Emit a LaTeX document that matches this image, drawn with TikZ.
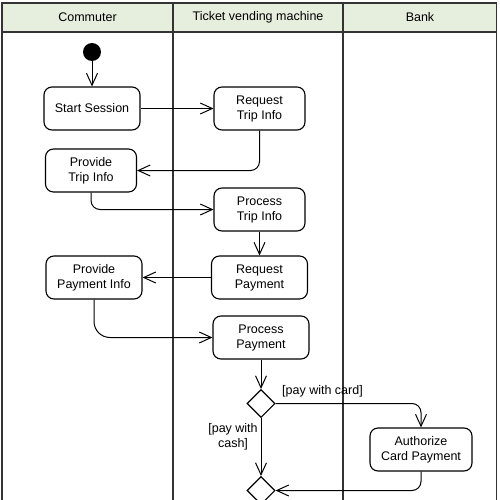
\documentclass[tikz,border=0pt]{standalone}
\usepackage{fontspec}
\setmainfont{Liberation Sans}
\definecolor{lanegreen}{RGB}{230,238,222}
\definecolor{lanegray}{RGB}{51,51,51}
\usetikzlibrary{arrows.meta}
\usetikzlibrary{shapes.geometric}
\tikzset{
  action/.style={draw, line width=1.1pt, rounded corners=8pt, align=center,
    minimum height=43pt, inner sep=2pt, font=\fontsize{12.5}{15}\selectfont},
  decision/.style={draw, diamond, line width=1.1pt, minimum width=28pt,
    minimum height=28pt, inner sep=0pt},
  flow/.style={line width=1pt, rounded corners=9pt,
    -{Straight Barb[length=12pt,width=11pt,line width=1pt]}},
  guard/.style={font=\fontsize{12.5}{15}\selectfont, align=center, inner sep=0pt},
  lanetitle/.style={font=\fontsize{12.5}{15}\selectfont}
}

\begin{document}
\begin{tikzpicture}[x=1pt, y=-1pt]

  \clip (0,0) rectangle (500,500);

  % swimlanes
  \fill [lanegreen] (2,3) rectangle (496.5,32);
  \draw [lanegray, line width=1.2pt] (2,3) rectangle (496.5,520);
  \draw [lanegray, line width=2pt] (2,32) -- (496.5,32);
  \foreach \x in {173,343} \draw [lanegray, line width=1.4pt] (\x,3) -- (\x,520);

  \node [lanetitle] (commuter) at (87.5,17.5) {Commuter};
  \node [lanetitle] (machine) at (258,17.5) {Ticket vending machine};
  \node [lanetitle] (bank) at (420,17.5) {Bank};

  % actions
  \node [circle, fill=black, minimum size=18pt, inner sep=0pt] (start) at (92,52) {};
  \node [action, minimum width=96pt] (startsession) at (92,108.5) {Start Session};
  \node [action, minimum width=91pt] (reqtrip) at (259.5,108.5) {Request\\Trip Info};
  \node [action, minimum width=91pt] (provtrip) at (91,170.5) {Provide\\Trip Info};
  \node [action, minimum width=91pt] (proctrip) at (259.5,209.5) {Process\\Trip Info};
  \node [action, minimum width=96pt] (reqpay) at (259.5,277.5) {Request\\Payment};
  \node [action, minimum width=96pt] (provpay) at (94,277.5) {Provide\\Payment Info};
  \node [action, minimum width=96pt] (procpay) at (261,337.5) {Process\\Payment};
  \node [decision] (choice) at (261,403.5) {};
  \node [action, minimum width=102pt] (authorize) at (421,449.5) {Authorize\\Card Payment};
  \node [decision] (merge) at (261,490.5) {};

  % guards
  \node [guard] (card) at (322.5,391) {[pay with card]};
  \node [guard] (cash) at (233,436.5) {[pay with\\cash]};

  % flows
  \draw [flow] (start) -- (startsession);
  \draw [flow] (startsession) -- (reqtrip);
  \draw [flow] (reqtrip.south) |- (provtrip.east);
  \draw [flow] (provtrip.south) |- (proctrip.west);
  \draw [flow] (proctrip) -- (reqpay);
  \draw [flow] (reqpay) -- (provpay);
  \draw [flow, rounded corners=16pt] (provpay.south) |- (procpay.west);
  \draw [flow] (procpay) -- (choice);
  \draw [flow] (choice.east) -| (authorize.north);
  \draw [flow] (choice.south) -- (merge.north);
  \draw [flow] (authorize.south) |- (merge.east);

\end{tikzpicture}
\end{document}
